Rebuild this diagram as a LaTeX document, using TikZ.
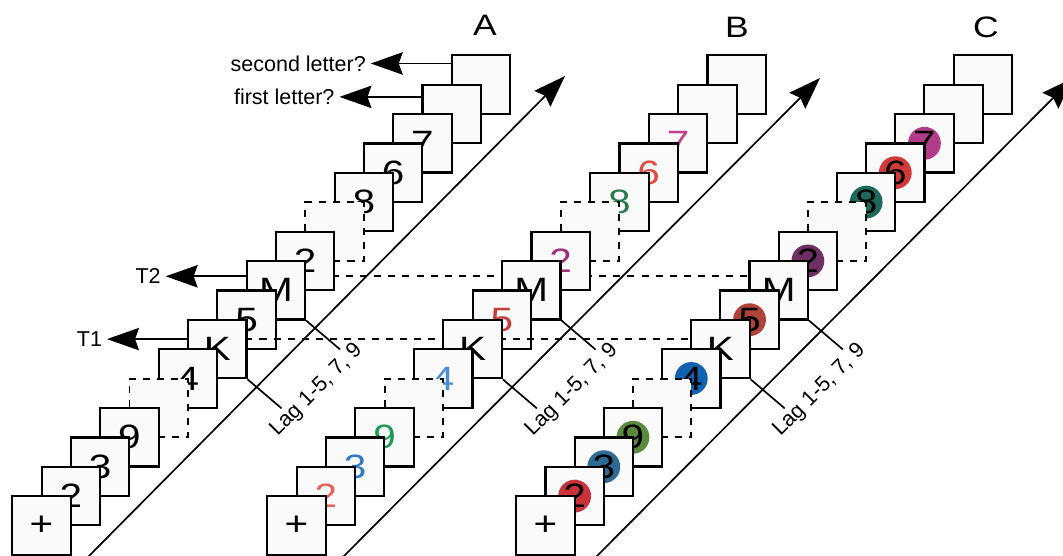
\documentclass[tikz,border=0pt]{standalone}
\usepackage{fontspec}
\setmainfont{Liberation Sans}
\newfontfamily\cardfont[FakeStretch=1.2]{Liberation Sans}
\usepackage{tikz}
\usetikzlibrary{arrows.meta,positioning,calc}

\colorlet{cardfill}{black!2}
% panel B: coloured digits
\definecolor{B1}{HTML}{E8645A}
\definecolor{B2}{HTML}{2E7BC4}
\definecolor{B3}{HTML}{1E9A52}
\definecolor{B5}{HTML}{4A8FD6}
\definecolor{B7}{HTML}{C43C3C}
\definecolor{B9}{HTML}{A3297A}
\definecolor{B11}{HTML}{2B7A4E}
\definecolor{B12}{HTML}{E24B3F}
\definecolor{B13}{HTML}{C23C8C}
\colorlet{B0}{black}\colorlet{B6}{black}\colorlet{B8}{black}
\colorlet{B14}{black}\colorlet{B15}{black}
% panel C: coloured discs
\definecolor{C1}{HTML}{C8323A}
\definecolor{C2}{HTML}{2F6A94}
\definecolor{C3}{HTML}{5C8A3C}
\definecolor{C5}{HTML}{1262B2}
\definecolor{C7}{HTML}{B04339}
\definecolor{C9}{HTML}{6E2F63}
\definecolor{C11}{HTML}{1D6A5C}
\definecolor{C12}{HTML}{D23A3A}
\definecolor{C13}{HTML}{B23C8A}
\colorlet{C0}{cardfill}\colorlet{C6}{cardfill}\colorlet{C8}{cardfill}
\colorlet{C14}{cardfill}\colorlet{C15}{cardfill}

\begin{document}
\begin{tikzpicture}[
  x=0.025cm,y=-0.025cm,
  font=\fontsize{15.3}{18}\selectfont,
  card/.style={draw,line width=1.5pt,fill=cardfill,minimum size=1.46cm,inner sep=0pt,
    font=\cardfont\fontsize{24}{28}\selectfont},
  ghost/.style={draw,fill=cardfill,line width=1.4pt,dash pattern=on 5pt off 5pt,
    minimum size=1.46cm,inner sep=0pt},
  dot/.style={path picture={\fill[#1] (path picture bounding box.center) circle (0.41cm);}},
  hueA/.style={},
  hueB/.style={text=#1},
  hueC/.style={dot=#1},
  link/.style={line width=1.4pt,dash pattern=on 5pt off 5pt},
  tip/.style={-{Stealth[length=8mm,width=5.6mm,inset=1mm]},line width=1.2pt},
  lagline/.style={line width=1.2pt},
  lag/.style={rotate=45,anchor=north,inner sep=1.5pt},
  panel/.style={font=\cardfont\fontsize{21}{25}\selectfont}
]
\useasboundingbox (0,0) rectangle (1063,556);
% link points for T1 and T2
\foreach \p/\x/\s in {A/12/29.3,B/267/29.35,C/516/29.15}{
  \coordinate (\p m) at (\x+29.5+\s*8,511.5-29.4*8);
  \coordinate (\p k) at (\x+29.5+\s*6,515.5-29.4*6);
}
% back of the streams
\foreach \p/\x/\s in {A/12/29.3,B/267/29.35,C/516/29.15}{
  \foreach \i/\t in {15/{},14/{},13/7,12/6,11/8}
    \node[card,hue\p=\p\i] (\p\i) at (\x+29.5+\s*\i,525.5-29.4*\i) {\t};
  \node[ghost] (\p10) at (\x+29.5+\s*10,525.5-29.4*10) {};
}
\draw[link] (Am) -- (Cm);
\foreach \p/\x/\s in {A/12/29.3,B/267/29.35,C/516/29.15}
  \foreach \i/\t in {9/2,8/M,7/5}
    \node[card,hue\p=\p\i] (\p\i) at (\x+29.5+\s*\i,525.5-29.4*\i) {\t};
\draw[link] (Ak) -- (Ck);
% front of the streams
\foreach \p/\x/\s in {A/12/29.3,B/267/29.35,C/516/29.15}{
  \foreach \i/\t in {6/K,5/4}
    \node[card,hue\p=\p\i] (\p\i) at (\x+29.5+\s*\i,525.5-29.4*\i) {\t};
  \node[ghost] (\p4) at (\x+29.5+\s*4,525.5-29.4*4) {};
  \foreach \i/\t in {3/9,2/3,1/2,0/+}
    \node[card,hue\p=\p\i] (\p\i) at (\x+29.5+\s*\i,525.5-29.4*\i) {\t};
}
% lag marks
\foreach \p in {A,B,C}{
  \draw[lagline] (\p6.south east) -- ++(34,29) coordinate (\p-lk);
  \draw[lagline] (\p8.south east) -- ++(34,29) coordinate (\p-lm);
  \node[lag] (\p-lag) at ($(\p-lk)!0.45!(\p-lm)$) {Lag 1-5, 7, 9};
}
% responses and targets
\path (A15.west) ++(-80,-21) node[anchor=east] (q2) {second letter?};
\path (A14.west) ++(-82,-17) node[anchor=east] (q1) {first letter?};
\path (A8.west |- Am) ++(-80,0) node[anchor=east] (t2) {T2};
\path (A6.west |- Ak) ++(-80,0) node[anchor=east] (t1) {T1};
\draw[tip] (A15.west |- q2.east) -- (q2.east);
\draw[tip] (A14.west |- q1.east) -- (q1.east);
\draw[tip] (A8.west |- t2.east) -- (t2.east);
\draw[tip] (A6.west |- t1.east) -- (t1.east);
% time axes
\coordinate (At0) at (87,558); \coordinate (At1) at (565,76);
\coordinate (Bt0) at (342,558); \coordinate (Bt1) at (820,78);
\coordinate (Ct0) at (595,558); \coordinate (Ct1) at (1073,78);
\foreach \p in {A,B,C} \draw[tip] (\p t0) -- (\p t1);
\node[panel] (pa) at (485,25) {A};
\node[panel] (pb) at (737,27) {B};
\node[panel] (pc) at (986,27) {C};
\end{tikzpicture}
\end{document}
